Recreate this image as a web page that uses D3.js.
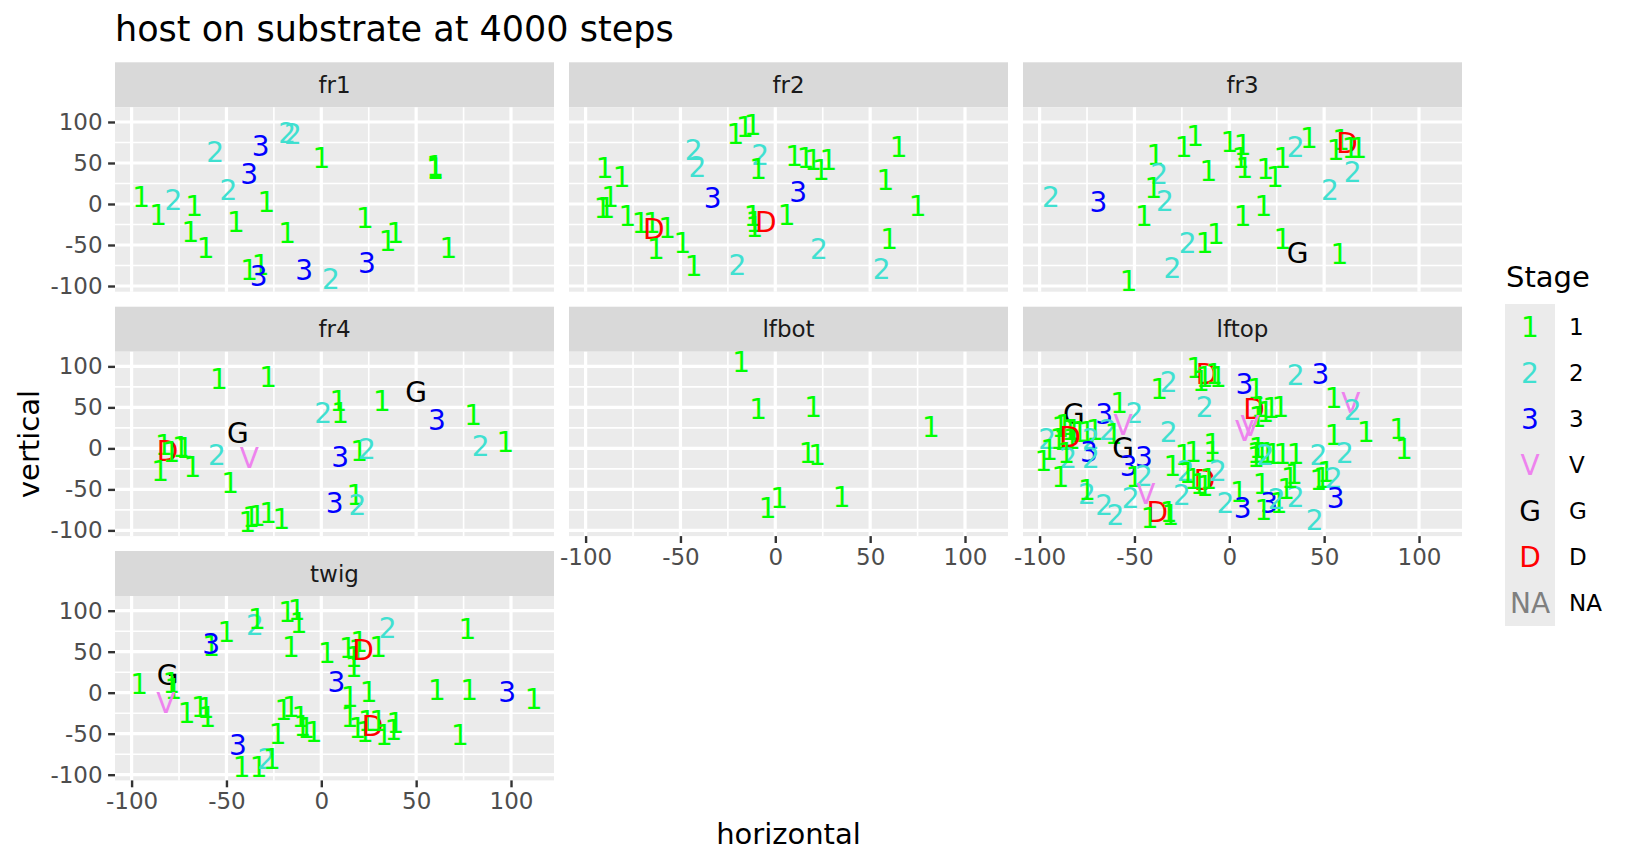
<!DOCTYPE html>
<html>
<head>
<meta charset="utf-8">
<script src="https://cdn.jsdelivr.net/npm/d3@7"></script>
<style>
  body { margin: 0; background: #fff; }
  text { font-family: "DejaVu Sans", sans-serif; }
</style>
</head>
<body>
<svg width="1632" height="865"></svg>
<script>
// facets, in reading order
const panelNames = ["fr1", "fr2", "fr3", "fr4", "lfbot", "lftop", "twig"];
const stageLevels = ["1", "2", "3", "V", "G", "D", "NA"];
const stageColors = ["#00FF00", "#40E0D0", "#0000FF", "#EE82EE", "#000000", "#FF0000", "#7F7F7F"];
const xTicks = [-100, -50, 0, 50, 100];
const yTicks = [-100, -50, 0, 50, 100];
const xMinor = [-75, -25, 25, 75];
const yMinor = [-75, -25, 25, 75];

// [horizontal, vertical, stage]
const fr1 = [
  [-95, 9, "1"], [-86, -13, "1"], [-78, 5, "2"], [-67, -2, "1"], [-69, -34, "1"], [-61, -53, "1"],
  [-56, 64, "2"], [-49, 17, "2"], [-45, -22, "1"], [-38, 37, "3"], [-32, 71, "3"], [-29, 2, "1"],
  [-18, 87, "2"], [-15, 85, "2"], [-18, -35, "1"], [0, 56, "1"], [-38, -80, "1"], [-32, -74, "1"],
  [-33, -88, "3"], [-9, -80, "3"], [5, -91, "2"], [24, -72, "3"], [23, -17, "1"], [35, -45, "1"],
  [39, -35, "1"], [60, 46, "1"], [60, 43, "1"], [60, 44, "1"], [67, -53, "1"]
];
const fr2 = [
  [-90, 44, "1"], [-81, 33, "1"], [-87, 9, "1"], [-91, -5, "1"], [-89, -5, "1"], [-78, -15, "1"],
  [-71, -23, "1"], [-65, -23, "1"], [-64, -30, "D"], [-57, -29, "1"], [-63, -55, "1"], [-49, -47, "1"],
  [-43, -76, "1"], [-43, 66, "2"], [-41, 45, "2"], [-33, 7, "3"], [-20, -74, "2"], [-21, 85, "1"],
  [-16, 94, "1"], [-12, 96, "1"], [-8, 60, "2"], [-9, 43, "1"], [-12, -15, "1"], [-11, -22, "1"],
  [-11, -28, "1"], [-5, -22, "D"], [6, -13, "1"], [12, 15, "3"], [10, 59, "1"], [16, 56, "1"],
  [20, 54, "1"], [24, 41, "1"], [28, 54, "1"], [23, -55, "2"], [65, 69, "1"], [58, 29, "1"],
  [75, -2, "1"], [60, -43, "1"], [56, -79, "2"]
];
const fr3 = [
  [-94, 9, "2"], [-69, 2, "3"], [-39, 60, "1"], [-37, 37, "2"], [-40, 19, "1"], [-34, 4, "2"],
  [-45, -15, "1"], [-53, -94, "1"], [-24, 69, "1"], [-18, 83, "1"], [-11, 40, "1"], [0, 76, "1"],
  [7, 72, "1"], [6, 56, "1"], [8, 44, "1"], [19, 43, "1"], [24, 33, "1"], [28, 56, "1"],
  [35, 70, "2"], [42, 80, "1"], [56, 66, "1"], [59, 78, "1"], [62, 74, "D"], [64, 68, "1"],
  [68, 68, "1"], [65, 39, "2"], [53, 17, "2"], [18, -2, "1"], [7, -14, "1"], [28, -42, "1"],
  [36, -60, "G"], [58, -61, "1"], [-7, -36, "1"], [-13, -47, "1"], [-22, -48, "2"], [-30, -78, "2"]
];
const fr4 = [
  [-54, 85, "1"], [-28, 87, "1"], [1, 43, "2"], [9, 58, "1"], [10, 43, "1"], [32, 58, "1"],
  [50, 69, "G"], [61, 35, "3"], [80, 41, "1"], [84, 3, "2"], [97, 8, "1"], [-44, 19, "G"],
  [-38, -12, "V"], [-55, -8, "2"], [-48, -42, "1"], [-83, 4, "1"], [-81, -3, "D"], [-79, -4, "1"],
  [-74, 2, "1"], [-72, 0, "1"], [-85, -27, "1"], [-68, -23, "1"], [10, -11, "3"], [20, -3, "1"],
  [24, -1, "2"], [7, -66, "3"], [18, -57, "1"], [19, -69, "2"], [-39, -90, "1"], [-37, -84, "1"],
  [-34, -82, "1"], [-28, -79, "1"], [-21, -86, "1"]
];
const lfbot = [
  [-18, 106, "1"], [-9, 48, "1"], [20, 50, "1"], [82, 26, "1"], [17, -5, "1"], [22, -8, "1"],
  [35, -59, "1"], [2, -61, "1"], [-4, -73, "1"]
];
const lftop = [
  [-18, 98, "1"], [-12, 91, "D"], [-13, 87, "1"], [-8, 91, "1"], [-15, 82, "1"], [-6, 87, "1"],
  [-13, 50, "2"], [8, 79, "3"], [14, 73, "1"], [13, 48, "D"], [16, 51, "1"], [19, 45, "1"],
  [22, 49, "1"], [27, 50, "1"], [15, 38, "1"], [8, 21, "V"], [11, 27, "V"], [35, 89, "2"],
  [48, 91, "3"], [55, 61, "1"], [64, 55, "V"], [65, 47, "2"], [55, 16, "1"], [72, 20, "1"],
  [89, 24, "1"], [92, -1, "1"], [47, -8, "2"], [61, -6, "2"], [51, -29, "1"], [49, -36, "1"],
  [55, -36, "2"], [56, -61, "3"], [14, -6, "1"], [17, -6, "1"], [20, -6, "1"], [23, -7, "1"],
  [28, -7, "1"], [35, -7, "1"], [14, -11, "1"], [15, 0, "1"], [19, -8, "2"], [-9, 6, "1"],
  [-9, -4, "1"], [-19, -4, "1"], [-24, -8, "1"], [-13, -39, "D"], [-19, -37, "1"], [-16, -43, "1"],
  [-13, -46, "1"], [-11, -37, "1"], [-6, -28, "2"], [-23, -28, "2"], [-25, -57, "2"], [5, -53, "1"],
  [7, -73, "3"], [-2, -67, "2"], [17, -43, "1"], [21, -67, "3"], [18, -75, "1"], [26, -67, "1"],
  [30, -49, "1"], [35, -59, "2"], [34, -31, "1"], [45, -87, "2"], [25, -62, "2"], [47, -38, "1"],
  [32, -36, "1"], [-82, 42, "G"], [-66, 42, "3"], [-58, 55, "1"], [-50, 43, "2"], [-56, 28, "V"],
  [-64, 22, "2"], [-61, 18, "1"], [-32, 20, "2"], [-37, 73, "1"], [-32, 81, "2"], [-56, 0, "G"],
  [-45, -10, "3"], [-53, -22, "3"], [-50, -35, "1"], [-45, -33, "2"], [-44, -56, "V"], [-52, -61, "2"],
  [-75, -56, "2"], [-75, -51, "1"], [-66, -69, "2"], [-60, -81, "2"], [-38, -77, "D"], [-42, -85, "1"],
  [-32, -77, "1"], [-31, -81, "1"], [-89, 26, "1"], [-87, 28, "1"], [-84, 22, "1"], [-82, 22, "1"],
  [-79, 20, "1"], [-75, 20, "1"], [-71, 22, "1"], [-90, 12, "1"], [-88, 10, "1"], [-83, 12, "1"],
  [-84, 14, "D"], [-96, 12, "2"], [-73, 12, "2"], [-74, -4, "3"], [-85, -12, "2"], [-73, -12, "2"],
  [-98, -15, "1"], [-89, -35, "1"], [-95, -2, "1"], [-86, -5, "1"], [-30, -22, "1"], [-22, -30, "1"]
];
const twig = [
  [-96, 11, "1"], [-81, 22, "G"], [-78, 5, "1"], [-79, 12, "1"], [-82, -13, "V"], [-71, -25, "1"],
  [-64, -17, "1"], [-61, -19, "1"], [-60, -29, "1"], [-58, 57, "1"], [-58, 60, "3"], [-50, 74, "1"],
  [-35, 83, "2"], [-34, 90, "1"], [-18, 99, "1"], [-13, 101, "1"], [-12, 85, "1"], [-16, 56, "1"],
  [3, 48, "1"], [14, 54, "1"], [20, 62, "1"], [17, 44, "1"], [17, 32, "1"], [19, 52, "1"],
  [22, 52, "D"], [30, 56, "1"], [35, 79, "2"], [77, 78, "1"], [8, 13, "3"], [15, -5, "1"],
  [25, 1, "1"], [61, 3, "1"], [78, 3, "1"], [98, 1, "3"], [112, -7, "1"], [73, -52, "1"],
  [-20, -21, "1"], [-16, -17, "1"], [-11, -29, "1"], [-10, -41, "1"], [-8, -43, "1"], [-4, -48, "1"],
  [-23, -50, "1"], [15, -29, "1"], [19, -43, "1"], [23, -48, "1"], [24, -35, "1"], [27, -41, "D"],
  [30, -35, "1"], [33, -52, "1"], [39, -37, "1"], [38, -45, "1"], [-44, -64, "3"], [-42, -91, "1"],
  [-33, -91, "1"], [-29, -81, "2"], [-26, -81, "1"]
];
const panelData = [fr1, fr2, fr3, fr4, lfbot, lftop, twig];

const svg = d3.select("svg");
const colLeft = [115, 569, 1023];
const rowTop = [107.3, 351.7, 596];
const panelW = 439, panelH = 184.4, stripH = 45;
const textSize = 28;

const x = d3.scaleLinear().domain([-108.75, 122.66]).range([0, panelW]);
const y = d3.scaleLinear().domain([-106.95, 117.9]).range([panelH, 0]);
const colour = d3.scaleOrdinal().domain(stageLevels).range(stageColors);

svg.append("text")
  .attr("x", 115).attr("y", 41)
  .attr("font-size", 35).attr("fill", "#000")
  .text("host on substrate at 4000 steps");

panelNames.forEach((name, i) => {
  const col = i % 3, row = Math.floor(i / 3);
  const g = svg.append("g").attr("transform", `translate(${colLeft[col]},${rowTop[row]})`);

  // strip
  g.append("rect").attr("x", 0).attr("y", -stripH).attr("width", panelW).attr("height", stripH)
    .attr("fill", "#D9D9D9");
  g.append("text").attr("x", panelW / 2).attr("y", -stripH / 2).attr("dy", "0.36em")
    .attr("text-anchor", "middle").attr("font-size", 23).attr("fill", "#1A1A1A").text(name);

  // panel + grid
  g.append("rect").attr("width", panelW).attr("height", panelH).attr("fill", "#EBEBEB");
  g.selectAll(".xminor").data(xMinor).join("line")
    .attr("x1", d => x(d)).attr("x2", d => x(d)).attr("y1", 0).attr("y2", panelH)
    .attr("stroke", "#fff").attr("stroke-width", 1.6);
  g.selectAll(".yminor").data(yMinor).join("line")
    .attr("y1", d => y(d)).attr("y2", d => y(d)).attr("x1", 0).attr("x2", panelW)
    .attr("stroke", "#fff").attr("stroke-width", 1.6);
  g.selectAll(".xmajor").data(xTicks).join("line")
    .attr("x1", d => x(d)).attr("x2", d => x(d)).attr("y1", 0).attr("y2", panelH)
    .attr("stroke", "#fff").attr("stroke-width", 3.2);
  g.selectAll(".ymajor").data(yTicks).join("line")
    .attr("y1", d => y(d)).attr("y2", d => y(d)).attr("x1", 0).attr("x2", panelW)
    .attr("stroke", "#fff").attr("stroke-width", 3.2);

  // marks
  g.selectAll(".pt").data(panelData[i]).join("text")
    .attr("x", d => x(d[0])).attr("y", d => y(d[1])).attr("dy", "0.36em")
    .attr("text-anchor", "middle").attr("font-size", textSize)
    .attr("fill", d => colour(d[2])).text(d => d[2]);

  // axes (plain hyphen minus like R)
  const styleAxis = a => {
    a.select(".domain").remove();
    a.selectAll(".tick line").attr("stroke", "#333333").attr("stroke-width", 2.4);
    a.selectAll(".tick text").attr("font-size", 23).attr("fill", "#4D4D4D")
      .attr("font-family", "DejaVu Sans");
  };
  if (col === 0) {
    g.append("g").call(d3.axisLeft(y).tickValues(yTicks).tickFormat(d => String(d))
      .tickSize(6.9).tickPadding(5.5))
      .call(styleAxis);
  }
  const bottomPanel = (i + 3 >= panelNames.length);
  if (bottomPanel) {
    g.append("g").attr("transform", `translate(0,${panelH})`)
      .call(d3.axisBottom(x).tickValues(xTicks).tickFormat(d => String(d))
        .tickSize(6.9).tickPadding(5.5))
      .call(styleAxis);
  }
});

// axis titles
svg.append("text").attr("x", 788.5).attr("y", 844).attr("text-anchor", "middle")
  .attr("font-size", 29).attr("fill", "#000").text("horizontal");
svg.append("text").attr("transform", "translate(39,444) rotate(-90)").attr("text-anchor", "middle")
  .attr("font-size", 29).attr("fill", "#000").text("vertical");

// legend
const lg = svg.append("g").attr("transform", "translate(1505,0)");
lg.append("text").attr("x", 1).attr("y", 287).attr("font-size", 29).attr("fill", "#000").text("Stage");
const keyH = 46, keyTop = 304, keyW = 50;
lg.append("rect").attr("x", 0).attr("y", keyTop).attr("width", keyW).attr("height", keyH * stageLevels.length)
  .attr("fill", "#EBEBEB");
lg.selectAll(".key").data(stageLevels).join("text")
  .attr("x", keyW / 2).attr("y", (d, i) => keyTop + keyH * (i + 0.5)).attr("dy", "0.36em")
  .attr("text-anchor", "middle").attr("font-size", textSize)
  .attr("fill", d => colour(d)).text(d => d);
lg.selectAll(".lab").data(stageLevels).join("text")
  .attr("x", keyW + 14).attr("y", (d, i) => keyTop + keyH * (i + 0.5)).attr("dy", "0.36em")
  .attr("font-size", 23).attr("fill", "#000").text(d => d);
</script>
</body>
</html>
